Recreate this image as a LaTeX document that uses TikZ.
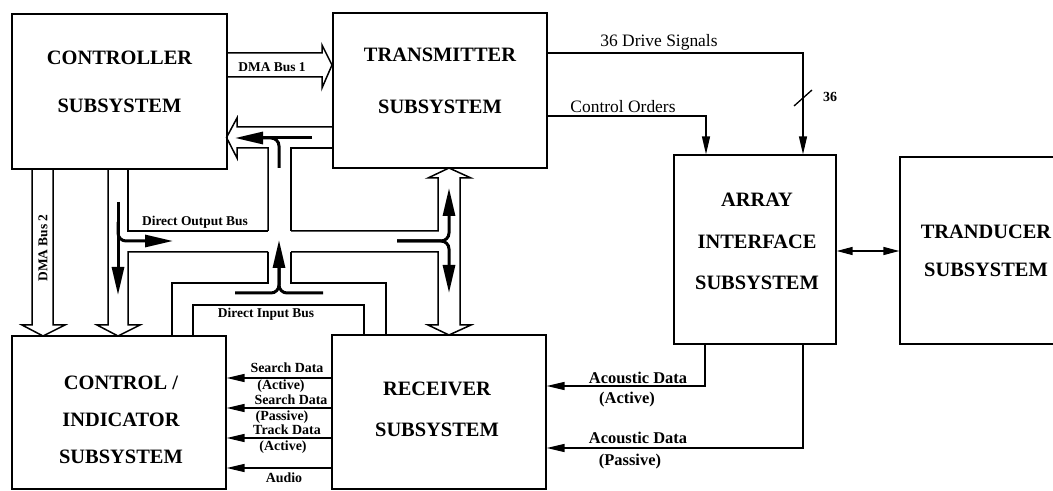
\documentclass[tikz,border=0pt]{standalone}
\usepackage{fontspec}
\setmainfont{Liberation Serif}
\usetikzlibrary{arrows.meta}
\begin{document}
\begin{tikzpicture}[x=1bp,y=-1bp,
  box/.style={draw, line width=1.3bp, inner sep=0pt},
  title/.style={font=\bfseries\fontsize{20.5}{#1}\selectfont, align=center, inner sep=0pt},
  buslab/.style={font=\bfseries\fontsize{13.5}{14}\selectfont, inner sep=0pt},
  siglab/.style={font=\fontsize{17.5}{18}\selectfont, inner sep=0pt},
  datlab/.style={font=\bfseries\fontsize{14}{16}\selectfont, inner sep=0pt},
  acolab/.style={font=\bfseries\fontsize{16.5}{18}\selectfont, inner sep=0pt},
  bus/.style={line width=1.5bp, line join=miter},
  fat/.style={line width=3bp, rounded corners=8bp},
  fattip/.style={-{Triangle[length=28bp,width=12bp]}},
  sig/.style={line width=1.4bp, -{Triangle[length=18bp,width=8bp]}},
]
\useasboundingbox (0,0) rectangle (1053,491);

% boxes
\node[box, minimum width=215bp, minimum height=155bp] (ctrl) at (119.5,91.5) {};
\node[box, minimum width=214bp, minimum height=155bp] (tx) at (440,90.5) {};
\node[box, minimum width=214bp, minimum height=153bp] (ci) at (119,412.5) {};
\node[box, minimum width=214bp, minimum height=154bp] (rx) at (439,412) {};
\node[box, minimum width=162bp, minimum height=189bp] (arr) at (755,249.5) {};
\node[box, minimum width=175bp, minimum height=187bp] (trd) at (987.5,250.5) {};

% titles
\node[title=48bp] (tctrl) at (119.5,82) {CONTROLLER\\SUBSYSTEM};
\node[title=52bp] (ttx) at (440,81) {TRANSMITTER\\SUBSYSTEM};
\node[title=37bp] (tci) at (121,420) {CONTROL /\\INDICATOR\\SUBSYSTEM};
\node[title=41bp] (trx) at (437,409.5) {RECEIVER\\SUBSYSTEM};
\node[title=41.5bp] (tarr) at (757,241.5) {ARRAY\\INTERFACE\\SUBSYSTEM};
\node[title=38bp] (ttrd) at (986,251) {TRANDUCER\\SUBSYSTEM};

% hollow buses
\draw[bus] (227,53) -- (322,53) -- (322,45) -- (332,65) -- (322,88) -- (322,77) -- (227,77);
\draw[bus] (333,127) -- (237,127) -- (237,118) -- (226.5,137.5) -- (237,158) -- (237,148) -- (268,148) -- (268,231);
\draw[bus] (268,252) -- (268,283) -- (172,283) -- (172,336);
\draw[bus] (333,148) -- (291,148) -- (291,231);
\draw[bus] (291,252) -- (291,283) -- (386,283) -- (386,335);
\draw[bus] (193,336) -- (193,305) -- (364,305) -- (364,335);
\draw[bus] (32,169) -- (32,325) -- (22,325) -- (43,336) -- (65,325) -- (53,325) -- (53,169);
\draw[bus] (108,169) -- (108,325) -- (97,325) -- (118,336) -- (140,325) -- (128,325) -- (128,252) -- (268,252);
\draw[bus] (128,169) -- (128,231) -- (268,231);
\draw[bus] (291,231) -- (438,231) -- (438,178) -- (428,178) -- (449,168) -- (471,178) -- (460,178) -- (460,325) -- (471,325) -- (449,335) -- (428,325) -- (438,325) -- (438,252) -- (291,252);

% black flow arrows inside buses
\draw[fat, fattip] (118,202) -- (118,295);
\draw[fat, fattip] (118,222) |- (173,241);
\draw[fat, fattip] (397,241) -| (449,188);
\draw[fat, fattip] (397,241) -| (449,293);
\draw[fat, fattip] (235,293) -| (279,240);
\draw[fat] (323,293) -| (279,262);
\draw[fat, fattip] (312,138) -- (235,138);
\draw[fat] (279,168) |- (262,138);

% bus labels
\node[buslab] (ldma1) at (272,67) {DMA Bus 1};
\node[buslab] (ldob) at (195,222) {Direct Output Bus};
\node[buslab] (ldib) at (266,314) {Direct Input Bus};
\node[buslab, rotate=90] (ldma2) at (43,248) {DMA Bus 2};

% transmitter to array interface
\draw[sig] (tx.east |- 0,53) -| (arr.north -| 803,0);
\draw[sig] (tx.east |- 0,116) -| (arr.north -| 706,0);
\node[siglab] (ldrive) at (659,42) {36 Drive Signals};
\node[siglab] (lorders) at (623,107) {Control Orders};
\coordinate (sl1) at (794,106);
\coordinate (sl2) at (812,90);
\draw[line width=1.3bp] (sl1) -- (sl2);
\node[font=\bfseries\fontsize{14}{16}\selectfont, inner sep=0pt] (l36) at (830,97) {36};

% array interface <-> transducer
\draw[line width=1.4bp, {Triangle[length=16bp,width=8bp]}-{Triangle[length=16bp,width=8bp]}] (arr.east |- 0,251) -- (trd.west |- 0,251);

% array interface to receiver
\draw[sig] (arr.south -| 705,0) |- (rx.east |- 0,386);
\draw[sig] (arr.south -| 803,0) |- (rx.east |- 0,448);
\node[acolab] (lac1) at (638,378) {Acoustic Data};
\node[acolab] (lac1b) at (627,400) {(Active)};
\node[acolab] (lac2) at (638,438) {Acoustic Data};
\node[acolab] (lac2b) at (630,462) {(Passive)};

% receiver to control/indicator
\draw[sig] (rx.west |- 0,378) -- (ci.east |- 0,378);
\draw[sig] (rx.west |- 0,408) -- (ci.east |- 0,408);
\draw[sig] (rx.west |- 0,438) -- (ci.east |- 0,438);
\draw[sig] (rx.west |- 0,468) -- (ci.east |- 0,468);
\node[datlab] (ls1) at (287,368) {Search Data};
\node[datlab] (ls1b) at (281,386) {(Active)};
\node[datlab] (ls2) at (291,400) {Search Data};
\node[datlab] (ls2b) at (282,417) {(Passive)};
\node[datlab] (ls3) at (287,430) {Track Data};
\node[datlab] (ls3b) at (283,447) {(Active)};
\node[datlab] (ls4) at (284,478) {Audio};
\end{tikzpicture}
\end{document}
